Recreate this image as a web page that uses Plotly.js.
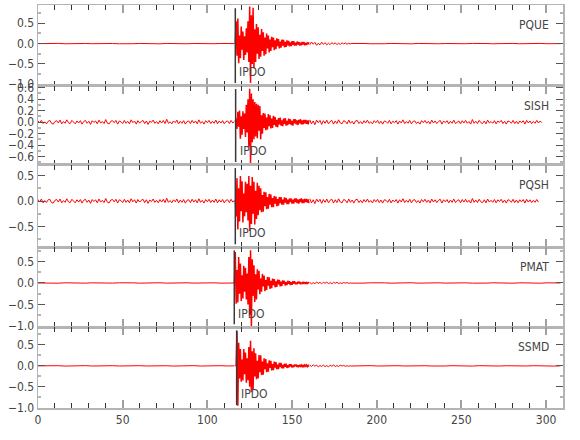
<!DOCTYPE html>
<html>
<head>
<meta charset="utf-8">
<script src="https://cdn.plot.ly/plotly-3.0.1.min.js"></script>
<style>html,body{margin:0;padding:0;background:#fff;}#chart{width:580px;height:440px;}</style>
</head>
<body>
<div id="chart"></div>
<script>
// ---------- data ----------
const stations = ['PQUE', 'SISH', 'PQSH', 'PMAT', 'SSMD'];
const pickTimes = [116.5, 116.7, 116.5, 115.9, 117.3];
const pickLabel = 'IPDO';
const xTickVals = [0, 50, 100, 150, 200, 250, 300];
const yRanges = [[-1.04, 0.95], [-0.743, 0.631], [-0.906, 0.712], [-1.023, 0.829], [-1.005, 0.924]];
const yDticks = [0.5, 0.2, 0.5, 0.5, 0.5];

// sampling of each record segment: start time and interval (s)
const preStart = [0, 0, 0, 0, 0];
const preDt = [4, 1, 1, 4, 4];
const mainStart = [116.5, 116.5, 116.5, 116, 116.5];
const mainDt = 0.5;
const codaStart = [160.5, null, null, 160.5, 160.5];
const codaDt = 1;
const tailStart = [184.5, 160.5, 160.5, 184.5, 184.5];
const tailDt = [4, 1, 1, 4, 4];

// PQUE
const PQUE_pre = [0,0.004,-0.003,0.005,-0.004,0.003,-0.005,0.004,-0.003,0.004,-0.005,0.003,-0.004,0.005,-0.003,0.004,-0.004,0.003,-0.005,0.004,-0.003,0.005,-0.004,0.003,-0.004,0.005,-0.003,0.004,-0.004,0];
const PQUE_main = [0,0.55,-0.30,0.62,-0.48,0.20,-0.36,0.42,-0.15,0.30,
-0.40,0.18,-0.28,0.38,-0.22,0.55,-0.45,0.91,-0.97,0.70,
-0.50,0.88,-0.60,0.35,-0.45,0.48,-0.25,0.40,-0.38,0.22,
-0.32,0.36,-0.18,0.28,-0.30,0.15,-0.26,0.25,-0.12,0.20,
-0.22,0.10,-0.18,0.17,-0.09,0.15,-0.16,0.08,-0.14,0.13,
-0.06,0.11,-0.12,0.05,-0.10,0.10,-0.05,0.09,-0.09,0.04,
-0.08,0.08,-0.04,0.07,-0.07,0.03,-0.06,0.06,-0.03,0.06,
-0.05,0.02,-0.05,0.05,-0.02,0.04,-0.05,0.02,-0.04,0.04,
-0.02,0.04,-0.04,0.015,-0.035,0.03,-0.015,0.03];
const PQUE_coda = [-0.03,0.04,-0.015,0.03,-0.04,0.01,-0.03,0.035,-0.02,0.025,-0.03,0.01,-0.025,0.025,-0.01,0.02,-0.025,0.01,-0.02,0.02,-0.008,0.015,-0.015,0.008,-0.012];
const PQUE_tail = [0.004,-0.005,0.003,-0.004,0.005,-0.003,0.004,-0.004,0.003,-0.005,0.004,-0.003,0.005,-0.004,0.003,-0.004,0.005,-0.003,0.004,-0.005,0.003,-0.004,0.004,-0.003,0.005,-0.004,0.003,-0.004,0.005,-0.003,0.004,0];

// SISH
const SISH_pre = [0.02,-0.01,0.03,-0.025,0.005,-0.03,0.015,0.03,-0.02,-0.035,
0.01,0.025,-0.015,0.035,-0.03,0.01,-0.02,0.04,-0.01,-0.025,
0.03,0.005,-0.03,0.02,-0.015,0.025,-0.035,0.01,0.03,-0.02,
0.015,-0.04,0.025,-0.005,0.02,-0.03,0.035,-0.015,0.01,-0.025,
0.045,-0.02,-0.03,0.015,0.025,-0.01,0.03,-0.035,0.02,0.005,
-0.025,0.03,-0.02,0.015,-0.03,0.04,-0.01,0.02,-0.035,0.025,
-0.015,0.01,0.03,-0.025,0.02,-0.04,0.015,-0.005,0.035,-0.02,
0.01,-0.03,0.025,-0.015,0.03,-0.025,0.05,-0.02,0.005,-0.03,
0.02,-0.01,0.035,-0.03,0.015,-0.02,0.025,-0.035,0.01,0.02,
-0.025,0.03,-0.015,0.02,-0.03,0.04,-0.02,0.01,-0.035,0.025,
-0.01,0.03,-0.025,0.015,-0.02,0.035,-0.03,0.02,-0.015,0.025,
-0.03,0.01,0.02,-0.025,0.03,-0.015,0.01];
const SISH_main = [0.02,0.06,-0.12,0.18,-0.08,0.20,-0.29,0.10,-0.22,0.19,
-0.12,0.15,-0.26,0.30,-0.18,0.40,-0.43,0.58,-0.72,0.50,
-0.35,0.40,-0.30,0.35,-0.25,0.32,-0.28,0.30,-0.15,0.28,
-0.30,0.12,-0.20,0.16,-0.10,0.15,-0.14,0.08,-0.13,0.14,
-0.07,0.12,-0.11,0.06,-0.10,0.11,-0.05,0.09,-0.08,0.04,
-0.09,0.07,-0.04,0.08,-0.06,0.03,-0.07,0.06,-0.03,0.07,
-0.06,0.02,-0.05,0.06,-0.03,0.05,-0.05,0.02,-0.06,0.05,
-0.02,0.05,-0.04,0.03,-0.05,0.04,-0.02,0.05,-0.04,0.03,
-0.04,0.04,-0.02,0.04,-0.03,0.03,-0.04,0.03];
const SISH_tail = [0.04,-0.03,0.02,-0.045,0.035,-0.01,0.03,-0.04,0.025,-0.02,
0.035,-0.03,0.01,0.03,-0.035,0.02,-0.025,0.04,-0.015,-0.03,
0.025,0.01,-0.03,0.035,-0.02,0.015,-0.035,0.02,0.03,-0.025,
0.01,-0.03,0.025,-0.015,0.035,-0.02,0.005,-0.03,0.025,-0.01,
0.03,-0.025,0.015,-0.035,0.02,0.01,-0.02,0.03,-0.03,0.015,
-0.01,0.025,-0.035,0.02,-0.015,0.04,-0.025,0.01,-0.02,0.03,
-0.03,0.015,0.02,-0.025,0.005,-0.035,0.025,-0.01,0.03,-0.02,
0.015,-0.03,0.035,-0.015,0.02,-0.025,0.01,0.03,-0.035,0.02,
-0.01,0.025,-0.03,0.015,-0.02,0.035,-0.025,0.005,0.02,-0.03,
0.025,-0.015,0.03,-0.02,0.01,-0.035,0.045,-0.02,0.015,-0.025,
0.03,-0.01,-0.025,0.02,-0.03,0.035,-0.015,0.01,-0.02,0.025,
-0.03,0.02,-0.005,0.03,-0.025,0.015,-0.035,0.02,0.01,-0.02,
0.03,-0.025,0.015,-0.03,0.02,-0.01,0.025,-0.035,0.03,-0.015,
0.02,-0.025,0.01,-0.02,0.03,-0.015,0.02,-0.01];

// PQSH
const PQSH_pre = [0.03,-0.02,0.04,-0.035,0.01,-0.03,0.025,0.035,-0.03,-0.04,
0.015,0.03,-0.02,0.04,-0.035,0.01,-0.025,0.045,-0.015,-0.03,
0.035,0.005,-0.035,0.025,-0.02,0.03,-0.04,0.015,0.035,-0.025,
0.02,-0.045,0.03,-0.01,0.025,-0.035,0.04,-0.02,0.015,-0.03,
0.05,-0.025,-0.035,0.02,0.03,-0.015,0.035,-0.04,0.025,0.01,
-0.03,0.035,-0.025,0.02,-0.035,0.045,-0.015,0.025,-0.04,0.03,
-0.02,0.015,0.035,-0.03,0.025,-0.045,0.02,-0.01,0.04,-0.025,
0.015,-0.035,0.03,-0.02,0.035,-0.03,0.055,-0.025,0.01,-0.035,
0.025,-0.015,0.04,-0.035,0.02,-0.025,0.03,-0.04,0.015,0.025,
-0.03,0.035,-0.02,0.025,-0.035,0.045,-0.025,0.015,-0.04,0.03,
-0.015,0.035,-0.03,0.02,-0.025,0.04,-0.035,0.025,-0.02,0.03,
-0.035,0.015,0.025,-0.03,0.035,-0.02,0.01];
const PQSH_main = [0.02,-0.30,0.45,-0.56,0.25,-0.40,0.49,-0.20,0.39,-0.42,
0.15,-0.30,0.38,-0.22,0.34,-0.38,0.49,-0.59,0.30,-0.45,
0.47,-0.25,0.38,-0.46,0.20,-0.35,0.36,-0.28,0.30,-0.18,
0.25,-0.22,0.12,-0.21,0.18,-0.10,0.17,-0.16,0.08,-0.15,
0.14,-0.07,0.13,-0.12,0.06,-0.12,0.10,-0.05,0.09,-0.10,
0.04,-0.09,0.08,-0.04,0.08,-0.07,0.03,-0.07,0.07,-0.03,
0.06,-0.06,0.03,-0.06,0.05,-0.02,0.05,-0.05,0.03,-0.05,
0.05,-0.02,0.05,-0.04,0.03,-0.05,0.04,-0.02,0.05,-0.04,
0.03,-0.04,0.04,-0.02,0.04,-0.03,0.03,-0.04];
const PQSH_tail = [0.045,-0.035,0.025,-0.05,0.04,-0.015,0.035,-0.045,0.03,-0.025,
0.04,-0.035,0.015,0.035,-0.04,0.025,-0.03,0.045,-0.02,-0.035,
0.03,0.015,-0.035,0.04,-0.025,0.02,-0.04,0.025,0.035,-0.03,
0.015,-0.035,0.03,-0.02,0.04,-0.025,0.01,-0.035,0.03,-0.015,
0.035,-0.03,0.02,-0.04,0.025,0.015,-0.025,0.035,-0.035,0.02,
-0.015,0.03,-0.04,0.025,-0.02,0.045,-0.03,0.015,-0.025,0.035,
-0.035,0.02,0.025,-0.03,0.01,-0.04,0.03,-0.015,0.035,-0.025,
0.02,-0.035,0.04,-0.02,0.025,-0.03,0.015,0.035,-0.04,0.025,
-0.015,0.03,-0.035,0.02,-0.025,0.04,-0.03,0.01,0.025,-0.035,
0.03,-0.02,0.035,-0.025,0.015,-0.04,0.05,-0.025,0.02,-0.03,
0.035,-0.015,-0.03,0.025,-0.035,0.04,-0.02,0.015,-0.025,0.03,
-0.035,0.025,-0.01,0.035,-0.03,0.02,-0.04,0.025,0.015,-0.025,
0.035,-0.03,0.02,-0.035,0.025,-0.015,0.03,-0.04,0.035,-0.02,
0.025,-0.03,0.015,-0.025,0.03,-0.02];

// PMAT
const PMAT_pre = [0,-0.004,0.003,-0.005,0.004,-0.003,0.005,-0.004,0.003,-0.004,0.005,-0.003,0.004,-0.005,0.003,-0.004,0.004,-0.003,0.005,-0.004,0.003,-0.005,0.004,-0.003,0.004,-0.005,0.003,-0.004,0.004,0];
const PMAT_main = [0,0.72,-0.48,0.30,-0.45,0.60,-0.25,0.45,-0.42,0.18,
-0.36,0.40,-0.20,0.35,-0.38,0.22,-0.50,0.60,-0.75,0.76,
-1.02,0.55,-0.30,0.41,-0.44,0.20,-0.38,0.32,-0.15,0.28,
-0.26,0.10,-0.20,0.21,-0.08,0.17,-0.19,0.07,-0.16,0.14,
-0.06,0.13,-0.14,0.05,-0.12,0.10,-0.05,0.09,-0.10,0.04,
-0.09,0.08,-0.03,0.07,-0.08,0.03,-0.07,0.06,-0.02,0.05,
-0.06,0.02,-0.05,0.05,-0.02,0.04,-0.05,0.015,-0.04,0.04,
-0.015,0.04,-0.03,0.01,-0.03,0.03,-0.01,0.03,-0.03,0.01,
-0.02,0.025,-0.01,0.02,-0.02,0.01,-0.02,0.02,-0.01];
const PMAT_coda = [0.02,-0.025,0.01,-0.02,0.025,-0.01,0.015,-0.02,0.02,-0.008,0.02,-0.015,0.008,-0.02,0.015,-0.006,0.015,-0.015,0.005,-0.012,0.012,-0.005,0.01,-0.01,0.005];
const PMAT_tail = [-0.004,0.005,-0.003,0.004,-0.005,0.003,-0.004,0.004,-0.003,0.005,-0.004,0.003,-0.005,0.004,-0.003,0.004,-0.005,0.003,-0.004,0.005,-0.003,0.004,-0.004,0.003,-0.005,0.004,-0.003,0.004,-0.005,0.003,-0.004,0];

// SSMD
const SSMD_pre = [0,0.004,-0.003,0.004,-0.005,0.003,-0.004,0.005,-0.004,0.003,-0.005,0.004,-0.003,0.005,-0.004,0.004,-0.003,0.004,-0.005,0.003,-0.005,0.004,-0.003,0.005,-0.004,0.003,-0.005,0.004,-0.003,0];
const SSMD_main = [0,0.02,0.83,-0.95,0.55,-0.30,0.40,-0.38,0.15,-0.35,
0.40,-0.20,0.32,-0.40,0.18,-0.34,0.45,-0.50,0.60,-0.63,
0.35,-0.58,0.42,-0.25,0.30,-0.32,0.12,-0.30,0.26,-0.15,
0.25,-0.22,0.10,-0.21,0.18,-0.08,0.16,-0.15,0.06,-0.14,
0.13,-0.05,0.12,-0.11,0.04,-0.10,0.10,-0.04,0.09,-0.08,
0.03,-0.08,0.07,-0.03,0.07,-0.06,0.02,-0.06,0.05,-0.02,
0.05,-0.05,0.015,-0.04,0.04,-0.015,0.04,-0.04,0.01,-0.03,
0.03,-0.01,0.03,-0.03,0.01,-0.03,0.025,-0.01,0.02,-0.02,
0.01,-0.02,0.02,-0.01,0.02,-0.02,0.01,-0.02];
const SSMD_coda = [0.02,-0.015,0.025,-0.01,0.02,-0.025,0.008,-0.015,0.02,-0.02,0.006,-0.02,0.015,-0.008,0.02,-0.015,0.006,-0.015,0.015,-0.005,0.012,-0.012,0.005,-0.012,0.008];
const SSMD_tail = [-0.004,0.004,-0.003,0.005,-0.004,0.003,-0.005,0.004,-0.003,0.004,-0.005,0.003,-0.004,0.005,-0.003,0.004,-0.004,0.003,-0.005,0.004,-0.003,0.005,-0.004,0.003,-0.004,0.005,-0.003,0.004,-0.004,0.003,-0.005,0];

const preData  = [PQUE_pre, SISH_pre, PQSH_pre, PMAT_pre, SSMD_pre];
const mainData = [PQUE_main, SISH_main, PQSH_main, PMAT_main, SSMD_main];
const codaData = [PQUE_coda, null, null, PMAT_coda, SSMD_coda];
const tailData = [PQUE_tail, SISH_tail, PQSH_tail, PMAT_tail, SSMD_tail];

// ---------- styling / layout ----------
const FONT = "'Liberation Sans Narrow', 'Arial Narrow', 'DejaVu Sans Condensed', sans-serif";
const RED = '#ff0000';
const domains = [[0.7993, 1], [0.6035, 0.7993], [0.399, 0.6035], [0.2007, 0.399], [0, 0.2007]];

const traces = [];
const layout = {
  width: 580, height: 440,
  margin: {l: 38, r: 17, t: 5, b: 31.5},
  paper_bgcolor: '#ffffff', plot_bgcolor: '#ffffff',
  showlegend: false, hovermode: false,
  font: {family: FONT, size: 12, color: '#444'},
  shapes: [], annotations: []
};

stations.forEach((st, i) => {
  const n = i + 1;
  const xa = 'x' + (n === 1 ? '' : n);
  const ya = 'y' + (n === 1 ? '' : n);
  const seg = (y, x0, dx, w) => ({type: 'scatter', mode: 'lines', x0: x0, dx: dx, y: y,
    xaxis: xa, yaxis: ya, line: {color: RED, width: w}, hoverinfo: 'skip'});
  traces.push(seg(preData[i], preStart[i], preDt[i], 1));
  traces.push(seg(mainData[i], mainStart[i], mainDt, 1.5));
  if (codaData[i]) traces.push(seg(codaData[i], codaStart[i], codaDt, 1));
  traces.push(seg(tailData[i], tailStart[i], tailDt[i], 1));

  const isBottom = (n === stations.length);
  layout['xaxis' + (n === 1 ? '' : n)] = {
    domain: [0, 1], anchor: ya, range: [0, 310],
    tickmode: 'array', tickvals: xTickVals, ticktext: xTickVals.map(String),
    showticklabels: isBottom, ticks: 'inside', ticklen: 8, tickwidth: 2, tickcolor: '#a0a0a0',
    minor: {dtick: 10, tick0: 0, ticks: 'inside', ticklen: 5, tickwidth: 1, tickcolor: '#333'},
    showline: true, linecolor: '#b4b4b4', linewidth: 1.5, mirror: 'ticks',
    showgrid: false, zeroline: false, fixedrange: true,
    tickfont: {family: FONT, size: 12, color: '#444'}
  };
  if (n > 1) layout['xaxis' + n].matches = 'x';
  layout['yaxis' + (n === 1 ? '' : n)] = {
    domain: domains[i], anchor: xa, range: yRanges[i],
    dtick: yDticks[i], tick0: 0, tickformat: '.1f',
    ticks: 'inside', ticklen: 7, tickwidth: 1, tickcolor: '#555',
    minor: {dtick: yDticks[i] / 2, tick0: 0, ticks: 'inside', ticklen: 3, tickwidth: 2, tickcolor: '#b4b4b4'},
    showline: true, linecolor: '#b4b4b4', linewidth: 1.5, mirror: 'ticks',
    showgrid: false, zeroline: false, fixedrange: true,
    tickfont: {family: FONT, size: 12, color: '#444'}
  };
  // pick line and label
  layout.shapes.push({type: 'line', xref: xa, yref: ya + ' domain', x0: pickTimes[i], x1: pickTimes[i],
    y0: 0.035, y1: 0.96, line: {color: '#383838', width: 1.5}});
  layout.annotations.push({xref: xa, yref: ya + ' domain', x: pickTimes[i] + 1.2, y: 0.17,
    xanchor: 'left', yanchor: 'middle', text: pickLabel, showarrow: false,
    font: {family: FONT, size: 12, color: '#444'}});
  // station name
  layout.annotations.push({xref: xa, yref: ya + ' domain', x: 303, y: 0.75,
    xanchor: 'right', yanchor: 'middle', text: st, showarrow: false,
    font: {family: FONT, size: 12, color: '#444'}});
});

Plotly.newPlot('chart', traces, layout, {staticPlot: true, displayModeBar: false});
</script>
</body>
</html>
